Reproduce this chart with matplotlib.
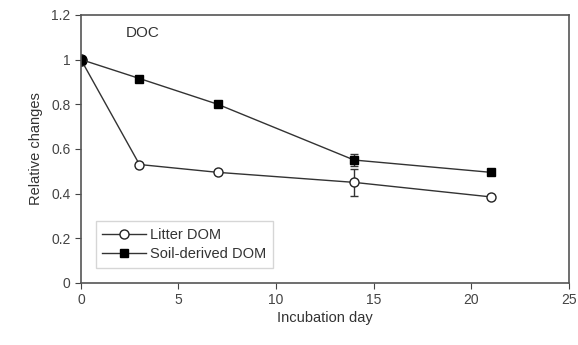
import matplotlib.pyplot as plt
from matplotlib.lines import Line2D
import numpy as np

plt.rcParams['font.family'] = ['Liberation Sans', 'DejaVu Sans']

# Data
days = [0, 3, 7, 14, 21]
litter = [1.0, 0.53, 0.495, 0.45, 0.385]
litter_err = [0, 0.0, 0.0, 0.06, 0.0]
soil = [1.0, 0.915, 0.80, 0.55, 0.495]
soil_err = [0, 0.0, 0.0, 0.025, 0.0]

fig = plt.figure(figsize=(5.78, 3.45), dpi=100)
ax = fig.add_axes([0.140, 0.180, 0.844, 0.777])

ax.errorbar(days, litter, yerr=litter_err, color='#333333', lw=1, marker='o',
            ms=6.5, mfc='white', mec='#222222', mew=1, capsize=3)
ax.errorbar(days, soil, yerr=soil_err, color='#333333', lw=1, marker='s',
            ms=5.5, mfc='black', mec='black', capsize=3)
ax.plot([0], [1.0], 'o', color='black', ms=8)

ax.set_xlim(0, 25)
ax.set_ylim(0, 1.2)
ax.set_xticks(np.arange(0, 26, 5))
ax.set_yticks([0, 0.2, 0.4, 0.6, 0.8, 1.0, 1.2])
ax.set_yticklabels(['0', '0.2', '0.4', '0.6', '0.8', '1', '1.2'])
ax.tick_params(labelsize=10, colors='#444444', direction='out', length=4)
for s in ax.spines.values():
    s.set_color('#555555')
    s.set_linewidth(1.2)

ax.set_xlabel('Incubation day', fontsize=10.5, color='#333333', labelpad=3)
ax.set_ylabel('Relative changes', fontsize=10.5, color='#333333', labelpad=6)
ax.text(2.3, 1.12, 'DOC', fontsize=11, color='#333333', va='center')

handles = [
    Line2D([], [], color='#333333', lw=1, marker='o', ms=6.5, mfc='white', mec='#222222'),
    Line2D([], [], color='#333333', lw=1, marker='s', ms=5.5, mfc='black', mec='black'),
]
leg = ax.legend(handles, ['Litter DOM', 'Soil-derived DOM'], loc='lower left',
                bbox_to_anchor=(0.015, 0.03), fontsize=10.5, frameon=True,
                fancybox=False, edgecolor='#cccccc', handlelength=3.0,
                handletextpad=0.3, borderpad=0.45, labelspacing=0.35)
for t in leg.get_texts():
    t.set_color('#333333')

plt.savefig('out.png', dpi=100)
